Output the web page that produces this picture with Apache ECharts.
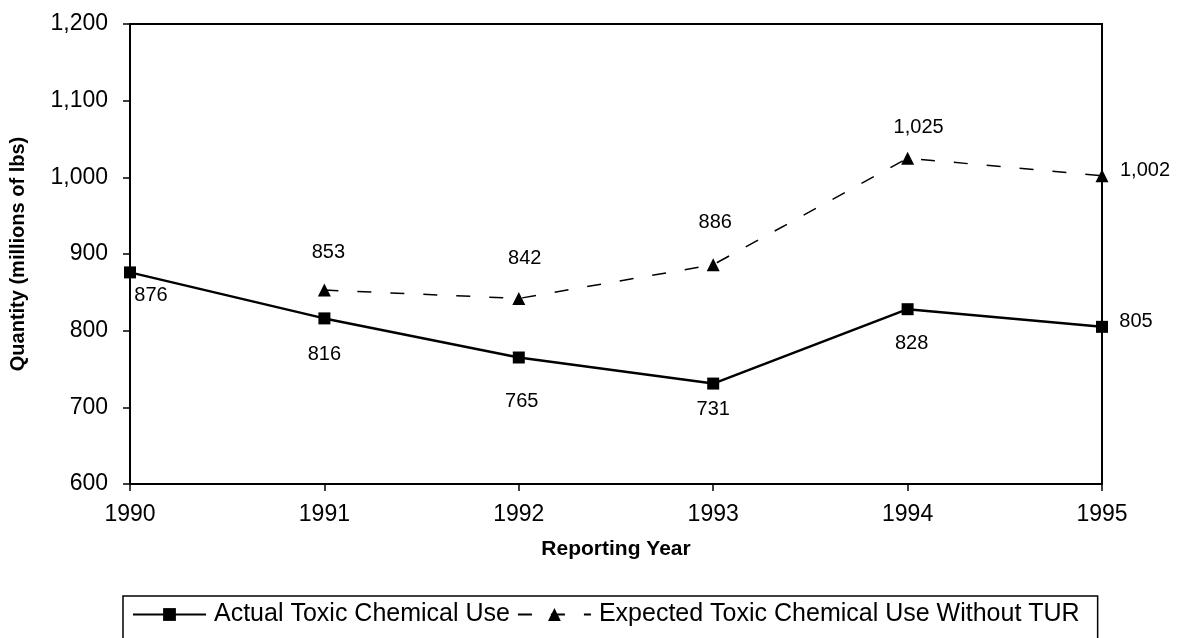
<!DOCTYPE html>
<html>
<head>
<meta charset="utf-8">
<script src="https://cdn.jsdelivr.net/npm/echarts@6/dist/echarts.min.js"></script>
<style>
html,body{margin:0;padding:0;background:#fff;}
#chart{width:1179px;height:638px;}
</style>
</head>
<body>
<div id="chart"></div>
<script>
var years = ['1990', '1991', '1992', '1993', '1994', '1995'];
var actualUse = [876, 816, 765, 731, 828, 805];
var expectedUse = [null, 853, 842, 886, 1025, 1002];
var seriesNames = ['Actual Toxic Chemical Use', 'Expected Toxic Chemical Use Without TUR'];

// label placement (offset of label centre from its point), style only
var actualLabelOffsets = [[21, 23], [0, 36], [3, 44], [0, 26], [4, 34], [34, -5]];
var expectedLabelOffsets = [null, [4, -38], [6, -40], [2, -42], [11, -31], [43, -5]];

var FONT = "'Liberation Sans', Arial, Helvetica, sans-serif";

function fmt(v) { return Number(v).toLocaleString('en-US'); }

function buildData(values, offsets) {
  return values.map(function (v, i) {
    if (v === null) return '-';
    return { value: v, label: { offset: offsets[i] } };
  });
}

var chart = echarts.init(document.getElementById('chart'), null, { renderer: 'canvas' });

var labelBase = {
  show: true,
  position: 'inside',
  color: '#000',
  fontFamily: FONT,
  fontSize: 20,
  formatter: function (p) { return fmt(p.value); }
};

chart.setOption({
  animation: false,
  backgroundColor: '#fff',
  grid: {
    left: 130, right: 77, top: 24, bottom: 154,
    show: true, borderColor: '#000', borderWidth: 2, backgroundColor: 'transparent'
  },
  legend: {
    left: 123, top: 596,
    padding: [6, 18, 40, 9],
    borderColor: '#000', borderWidth: 1.5,
    itemWidth: 73, itemHeight: 16, itemGap: 7,
    textStyle: { color: '#000', fontFamily: FONT, fontSize: 25, padding: [0, 0, 0, 3] },
    data: seriesNames
  },
  xAxis: {
    type: 'category',
    data: years,
    boundaryGap: false,
    name: 'Reporting Year',
    nameLocation: 'middle',
    nameGap: 55,
    nameTextStyle: { color: '#000', fontFamily: FONT, fontSize: 21, fontWeight: 'bold' },
    axisLine: { lineStyle: { color: '#000', width: 2 } },
    axisTick: { show: true, length: 7, alignWithLabel: true, lineStyle: { color: '#000', width: 1.5 } },
    axisLabel: { color: '#000', fontFamily: FONT, fontSize: 23, margin: 19 },
    splitLine: { show: false }
  },
  yAxis: {
    type: 'value',
    min: 600, max: 1200, interval: 100,
    name: 'Quantity (millions of lbs)',
    nameLocation: 'middle',
    nameGap: 102,
    nameTextStyle: { color: '#000', fontFamily: FONT, fontSize: 20, fontWeight: 'bold' },
    axisLine: { show: true, lineStyle: { color: '#000', width: 2 } },
    axisTick: { show: true, length: 7, lineStyle: { color: '#000', width: 1.5 } },
    axisLabel: { color: '#000', fontFamily: FONT, fontSize: 23, margin: 22, formatter: fmt },
    splitLine: { show: false }
  },
  series: [
    {
      name: seriesNames[0],
      type: 'line',
      data: buildData(actualUse, actualLabelOffsets),
      symbol: 'rect',
      symbolSize: 12,
      lineStyle: { color: '#000', width: 2.5, type: 'solid' },
      itemStyle: { color: '#000' },
      label: labelBase,
      z: 3
    },
    {
      name: seriesNames[1],
      type: 'line',
      data: buildData(expectedUse, expectedLabelOffsets),
      symbol: 'triangle',
      symbolSize: 13,
      lineStyle: { color: '#000', width: 1.5, type: [14, 19] },
      itemStyle: { color: '#000' },
      label: labelBase,
      z: 3
    }
  ]
});
</script>
</body>
</html>
